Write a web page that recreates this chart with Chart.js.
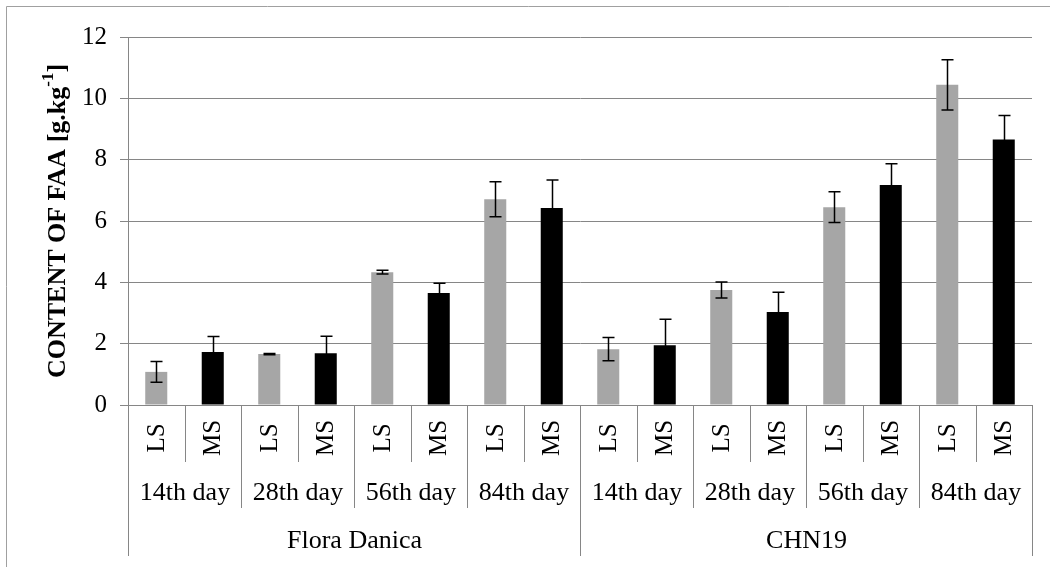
<!DOCTYPE html>
<html>
<head>
<meta charset="utf-8">
<script src="https://cdn.jsdelivr.net/npm/chart.js@4/dist/chart.umd.min.js"></script>
<style>
  html, body { margin: 0; padding: 0; background: #fff; }
  #wrap { width: 1050px; height: 567px; position: relative; }
</style>
</head>
<body>
<div id="wrap"><canvas id="chartFaa"></canvas></div>
<script>
// data
const cultivars = ['Flora Danica', 'CHN19'];
const days = ['14th day', '28th day', '56th day', '84th day'];
const storage = ['LS', 'MS'];
const faaValues = [1.08, 1.73, 1.66, 1.69, 4.33, 3.65, 6.71, 6.42,
                   1.82, 1.95, 3.75, 3.03, 6.45, 7.17, 10.44, 8.66];
const faaErrors = [0.34, 0.50, 0.02, 0.55, 0.06, 0.32, 0.57, 0.92,
                   0.38, 0.85, 0.26, 0.65, 0.50, 0.70, 0.82, 0.78];
const yTicks = [0, 2, 4, 6, 8, 10, 12];

const GRID = '#868686';
const SERIF = '"Liberation Serif", "DejaVu Serif", serif';

const labels = [];
cultivars.forEach(c => days.forEach(d => storage.forEach(s => labels.push([c, d, s]))));
const barColors = labels.map(l => l[2] === 'LS' ? '#a6a6a6' : '#000000');

// error bars, drawn through the y scale
const errorBars = {
    id: 'errorBars',
    afterDatasetsDraw(chart) {
        const ctx = chart.ctx;
        const y = chart.scales.y;
        const meta = chart.getDatasetMeta(0);
        ctx.save();
        ctx.strokeStyle = '#000';
        ctx.lineWidth = 1.5;
        meta.data.forEach((bar, i) => {
            const x = Math.round(bar.x) + 0.5;
            const top = y.getPixelForValue(faaValues[i] + faaErrors[i]);
            const bot = y.getPixelForValue(faaValues[i] - faaErrors[i]);
            ctx.beginPath();
            ctx.moveTo(x, top); ctx.lineTo(x, bot);
            ctx.moveTo(x - 6, top); ctx.lineTo(x + 6, top);
            ctx.moveTo(x - 6, bot); ctx.lineTo(x + 6, bot);
            ctx.stroke();
        });
        ctx.restore();
    }
};

// multi-level category axis, title and outer frame
const axisDecor = {
    id: 'axisDecor',
    afterDraw(chart) {
        const ctx = chart.ctx;
        const x = chart.scales.x;
        const area = chart.chartArea;
        const base = area.bottom;
        const n = labels.length;
        const step = (x.getPixelForValue(1) - x.getPixelForValue(0));
        const edge = i => Math.round(x.getPixelForValue(i) - step / 2) + 0.5;

        ctx.save();
        ctx.strokeStyle = GRID;
        ctx.lineWidth = 1;
        ctx.beginPath();
        for (let i = 0; i <= n; i++) {
            let len = 57;
            if (i % 2 === 0) len = 103;
            if (i % 8 === 0) len = 151;
            ctx.moveTo(edge(i), base);
            ctx.lineTo(edge(i), base + len);
        }
        ctx.stroke();

        ctx.fillStyle = '#000';
        ctx.font = '25px ' + SERIF;
        ctx.textAlign = 'center';
        ctx.textBaseline = 'middle';
        labels.forEach((l, i) => {
            const cx = x.getPixelForValue(i);
            ctx.save();
            ctx.translate(cx, base + 33);
            ctx.rotate(-Math.PI / 2);
            ctx.fillText(l[2], 0, 1);
            ctx.restore();
        });
        ctx.font = '26px ' + SERIF;
        for (let g = 0; g < n / 2; g++) {
            const cx = (edge(g * 2) + edge(g * 2 + 2)) / 2;
            ctx.fillText(labels[g * 2][1], cx, base + 88);
        }
        for (let c = 0; c < cultivars.length; c++) {
            const cx = (edge(c * 8) + edge(c * 8 + 8)) / 2;
            ctx.fillText(cultivars[c], cx, base + 136);
        }

        // y axis title with superscript
        ctx.save();
        ctx.translate(56, (area.top + area.bottom) / 2);
        ctx.rotate(-Math.PI / 2);
        ctx.textAlign = 'left';
        ctx.textBaseline = 'alphabetic';
        const main = 'CONTENT OF FAA [g.kg';
        const sup = '-1';
        const tail = ']';
        ctx.font = 'bold 26px ' + SERIF;
        const w1 = ctx.measureText(main).width;
        const w3 = ctx.measureText(tail).width;
        ctx.font = 'bold 17px ' + SERIF;
        const w2 = ctx.measureText(sup).width;
        const total = w1 + w2 + w3;
        let px = -total / 2;
        ctx.font = 'bold 26px ' + SERIF;
        ctx.fillText(main, px, 9);
        px += w1;
        ctx.font = 'bold 17px ' + SERIF;
        ctx.fillText(sup, px, -3);
        px += w2;
        ctx.font = 'bold 26px ' + SERIF;
        ctx.fillText(tail, px, 9);
        ctx.restore();

        // outer frame (top and left visible)
        ctx.strokeStyle = '#a0a0a0';
        ctx.beginPath();
        ctx.moveTo(6.5, 567);
        ctx.lineTo(6.5, 6.5);
        ctx.lineTo(1050, 6.5);
        ctx.stroke();
        ctx.restore();
    }
};

new Chart(document.getElementById('chartFaa'), {
    type: 'bar',
    data: {
        labels: labels.map(l => l[2]),
        datasets: [{
            data: faaValues,
            backgroundColor: barColors,
            borderWidth: 0,
            barPercentage: 0.39,
            categoryPercentage: 1.0
        }]
    },
    options: {
        responsive: true,
        maintainAspectRatio: false,
        animation: false,
        layout: { padding: { left: 0, top: 37, right: 18, bottom: 0 } },
        plugins: { legend: { display: false }, tooltip: { enabled: false } },
        scales: {
            x: {
                ticks: { display: false },
                grid: { display: false },
                border: { display: false },
                afterFit: s => { s.height = 162; }
            },
            y: {
                min: 0,
                max: 12,
                afterBuildTicks: s => { s.ticks = yTicks.map(v => ({ value: v })); },
                afterFit: s => { s.width = 128; },
                ticks: {
                    color: '#000',
                    padding: 13,
                    font: { family: SERIF, size: 25 }
                },
                grid: { color: GRID, lineWidth: 1, tickLength: 8 },
                border: { color: GRID, width: 1 }
            }
        }
    },
    plugins: [errorBars, axisDecor]
});
</script>
</body>
</html>
